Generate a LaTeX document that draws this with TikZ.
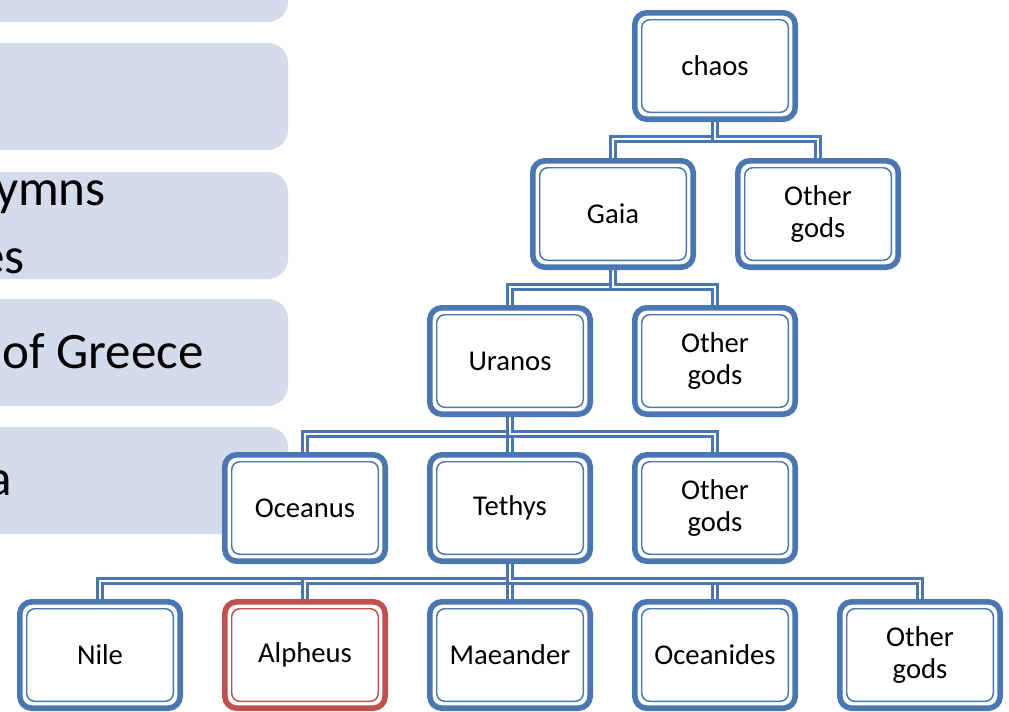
\documentclass[tikz,border=0pt]{standalone}
\usepackage{fontspec}
\setmainfont{Carlito}
\usetikzlibrary{backgrounds}
\definecolor{boxblue}{HTML}{4A77B0}
\definecolor{boxred}{HTML}{C0504D}
\definecolor{barfill}{HTML}{D4DBEB}
\newcommand{\godfont}{\fontsize{21.5}{24}\selectfont}
\newcommand{\barfont}{\fontsize{38.3}{46}\selectfont}
\tikzset{
  godbox/.style={draw=#1, fill=white, line width=4.2pt, rounded corners=9pt,
    minimum width=120.3pt, minimum height=79.8pt, inner sep=0pt,
    align=center, font=\godfont,
    path picture={\draw[#1, line width=1.1pt, rounded corners=6pt]
      ([shift={(5.2pt,5.2pt)}]path picture bounding box.south west) rectangle
      ([shift={(-5.2pt,-5.2pt)}]path picture bounding box.north east);}},
  godbox/.default=boxblue,
  link/.style={draw=boxblue, line width=2.3pt, double=white, double distance=1.1pt},
  bartext/.style={anchor=base east, inner sep=0pt, font=\barfont},
}
\begin{document}
\begin{tikzpicture}[x=0.75pt, y=-0.75pt]
    \useasboundingbox (0,0) rectangle (1009,711);
    % cut-off list on the left
    \begin{scope}[on background layer]
      \foreach \y in {-85, 43, 172, 299, 427} {
        \fill[barfill, rounded corners=15pt] (-40,\y) rectangle (288,\y+107);
      }
    \end{scope}
    \node[bartext] (t1) at (106,205) {ymns};
    \node[bartext] (t2) at (25,273) {es};
    \node[bartext] (t3) at (204,368) {of Greece};
    \node[bartext] (t4) at (12,495) {a};
    % family tree
    \node[godbox] (chaos) at (715,66) {chaos};
    \node[godbox] (gaia) at (613,214) {Gaia};
    \node[godbox] (oth1) at (818,214) {Other\\gods};
    \node[godbox] (uranos) at (510,361) {Uranos};
    \node[godbox] (oth2) at (715,361) {Other\\gods};
    \node[godbox] (oceanus) at (305,508) {Oceanus};
    \node[godbox] (tethys) at (510,508) {Tethys};
    \node[godbox] (oth3) at (715,508) {Other\\gods};
    \foreach \n/\x/\t in {nile/100/Nile, maeander/510/Maeander,
        oceanides/715/Oceanides, oth4/920/Other\\gods} {
      \node[godbox] (\n) at (\x,655) {\t};
    }
    \node[godbox=boxred] (alpheus) at (305,655) {Alpheus};
    \begin{scope}[on background layer]
      \foreach \p/\c in {chaos/gaia, chaos/oth1, gaia/uranos, gaia/oth2,
          uranos/oceanus, uranos/tethys, uranos/oth3, tethys/nile,
          tethys/alpheus, tethys/maeander, tethys/oceanides, tethys/oth4} {
        \draw[link] (\p.south) -- ++(0,17) -| (\c.north);
      }
    \end{scope}
  \end{tikzpicture}
\end{document}
